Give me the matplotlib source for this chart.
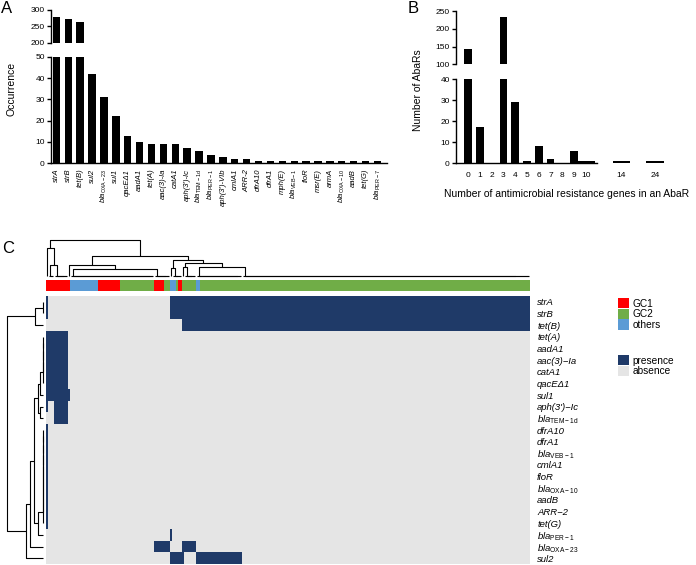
import numpy as np
import matplotlib
matplotlib.use('Agg')
import matplotlib.pyplot as plt
from matplotlib.colors import ListedColormap
from matplotlib.patches import Patch

plt.rcParams['font.family'] = ['Liberation Sans', 'DejaVu Sans']
plt.rcParams['mathtext.fontset'] = 'custom'
plt.rcParams['mathtext.rm'] = 'Liberation Sans'
plt.rcParams['mathtext.it'] = 'Liberation Sans:italic'
plt.rcParams['mathtext.bf'] = 'Liberation Sans:bold'

# ---------------- data ----------------
# Panel A
a_genes = ['strA', 'strB', 'tet(B)', 'sul2', 'blaOXA-23', 'sul1', 'qacEΔ1', 'aadA1', 'tet(A)',
           'aac(3)-Ia', 'catA1', "aph(3')-Ic", 'blaTEM-1d', 'blaPER-1', "aph(3')-VIb", 'cmlA1',
           'ARR-2', 'dfrA10', 'dfrA1', 'mph(E)', 'blaVEB-1', 'floR', 'msr(E)', 'armA',
           'blaOXA-10', 'aadB', 'tet(G)', 'blaPER-7']
a_counts = [278, 274, 263, 42, 31, 22, 13, 10, 9, 9, 9, 7, 6, 4, 3, 2, 2,
            1, 1, 1, 1, 1, 1, 1, 1, 1, 1, 1]

# Panel B
b_labels = ['0', '1', '2', '3', '4', '5', '6', '7', '8', '9', '10', '14', '24']
b_counts = [142, 17, 0, 234, 29, 1, 8, 2, 0, 6, 1, 1, 1]

# Panel C
heat_genes = ['strA', 'strB', 'tet(B)', 'tet(A)', 'aadA1', 'aac(3)−Ia', 'catA1', 'qacEΔ1', 'sul1',
              "aph(3')−Ic", 'blaTEM-1d', 'dfrA10', 'dfrA1', 'blaVEB-1', 'cmlA1', 'floR',
              'blaOXA-10', 'aadB', 'ARR−2', 'tet(G)', 'blaPER-1', 'blaOXA-23', 'sul2']
# column runs (consecutive AbaRs sharing clone and gene content)
run_sizes = [1, 3, 7, 1, 14, 11, 17, 5, 3, 1, 2, 1, 2, 1, 6, 2, 21, 144]
run_clone = ['GC1', 'GC1', 'GC1', 'GC1', 'others', 'GC1', 'GC2', 'GC1', 'GC2', 'others',
             'others', 'GC2', 'GC1', 'GC2', 'GC2', 'others', 'GC2', 'GC2']
run_genes = [
    ['strA', 'strB', 'tet(A)', 'aadA1', 'aac(3)−Ia', 'catA1', 'qacEΔ1', 'sul1', "aph(3')−Ic",
     'dfrA10', 'dfrA1', 'blaVEB-1', 'cmlA1', 'floR', 'blaOXA-10', 'aadB', 'ARR−2', 'tet(G)'],
    ['tet(A)', 'aadA1', 'aac(3)−Ia', 'catA1', 'qacEΔ1', 'sul1'],
    ['tet(A)', 'aadA1', 'aac(3)−Ia', 'catA1', 'qacEΔ1', 'sul1', "aph(3')−Ic", 'blaTEM-1d'],
    ['sul1'],
    [], [], [],
    ['blaOXA-23'], ['blaOXA-23'],
    ['strA', 'strB', 'blaPER-1', 'sul2'],
    ['strA', 'strB', 'sul2'], ['strA', 'strB', 'sul2'], ['strA', 'strB', 'sul2'],
    ['strA', 'strB', 'tet(B)', 'blaOXA-23', 'sul2'],
    ['strA', 'strB', 'tet(B)', 'blaOXA-23'],
    ['strA', 'strB', 'tet(B)', 'sul2'], ['strA', 'strB', 'tet(B)', 'sul2'],
    ['strA', 'strB', 'tet(B)'],
]
clones = ['GC1', 'GC2', 'others']

# ---------------- style ----------------
W, H = 696, 565
fig = plt.figure(figsize=(W / 100, H / 100), dpi=100)
clone_colors = ['#FF0000', '#70AD47', '#5B9BD5']
pres_color, abs_color = '#1F3A68', '#E5E5E5'
LW = 1.0


def px_axes(x0, y0, x1, y1):
    return fig.add_axes([x0 / W, 1 - y1 / H, (x1 - x0) / W, (y1 - y0) / H])


def gene_label(g):
    if g.startswith('bla'):
        return r'$\mathit{bla}_{\mathrm{' + g[3:] + '}}$'
    return g


def style_axes(ax, bottom=True):
    for s in ['top', 'right']:
        ax.spines[s].set_visible(False)
    ax.spines['left'].set_linewidth(LW)
    ax.spines['bottom'].set_linewidth(LW)
    if not bottom:
        ax.spines['bottom'].set_visible(False)
        ax.set_xticks([])
    ax.tick_params(axis='y', direction='out', length=3, width=LW, labelsize=6, pad=1.5)
    ax.set_facecolor('none')


# ---------------- Panel A ----------------
xa = np.arange(len(a_counts))
axA_lo = px_axes(51, 56.7, 387, 163.3)
axA_hi = px_axes(51, 10, 387, 42.7)
for ax in (axA_lo, axA_hi):
    ax.bar(xa, a_counts, width=0.62, color='black')
    ax.set_xlim(-0.45, 27.8)
axA_lo.set_ylim(0, 50)
axA_hi.set_ylim(200, 300)
style_axes(axA_lo)
style_axes(axA_hi, bottom=False)
axA_lo.set_yticks([0, 10, 20, 30, 40, 50])
axA_hi.set_yticks([200, 250, 300])
axA_lo.set_xticks(xa)
axA_lo.set_xticklabels([gene_label(g) for g in a_genes], rotation=90, fontsize=5.5,
                       fontstyle='italic')
axA_lo.tick_params(axis='x', length=0, pad=4)
fig.text(12 / W, 1 - 89 / H, 'Occurrence', rotation=90, ha='center', va='center', fontsize=7.5)
fig.text(1 / W, 1 - 1 / H, 'A', fontsize=12, ha='left', va='top')

# ---------------- Panel B ----------------
b_pos = list(range(11)) + [13.0, 15.85]
b_width = [0.64] * 10 + [1.45] * 3
axB_lo = px_axes(456, 79, 670, 163.3)
axB_hi = px_axes(456, 11, 670, 64.3)
for ax in (axB_lo, axB_hi):
    ax.bar(b_pos, b_counts, width=b_width, color='black')
    ax.set_xlim(-1.02, 17.12)
axB_lo.set_ylim(0, 40)
axB_hi.set_ylim(100, 250)
style_axes(axB_lo)
style_axes(axB_hi, bottom=False)
axB_lo.spines['bottom'].set_bounds(-1.02, 10.93)
axB_lo.set_yticks([0, 10, 20, 30, 40])
axB_hi.set_yticks([100, 150, 200, 250])
axB_lo.set_xticks(b_pos)
axB_lo.set_xticklabels(b_labels, fontsize=6)
axB_lo.tick_params(axis='x', length=0, pad=6)
fig.text(418 / W, 1 - 90 / H, 'Number of AbaRs', rotation=90, ha='center', va='center', fontsize=7.5)
fig.text(567 / W, 1 - 194 / H, 'Number of antimicrobial resistance genes in an AbaR',
         ha='center', va='center', fontsize=7.5)
fig.text(408 / W, 1 - 1 / H, 'B', fontsize=12, ha='left', va='top')

# ---------------- Panel C ----------------
n_rows = len(heat_genes)
n_cols = sum(run_sizes)
M = np.zeros((n_rows, n_cols))
clone_row = np.zeros((1, n_cols))
c = 0
for size, cl, genes in zip(run_sizes, run_clone, run_genes):
    for g in genes:
        M[heat_genes.index(g), c:c + size] = 1
    clone_row[0, c:c + size] = clones.index(cl)
    c += size

HX0, HX1, HY0, HY1 = 46, 529.5, 296, 564
axH = px_axes(HX0, HY0, HX1, HY1)
axH.imshow(M, cmap=ListedColormap([abs_color, pres_color]), aspect='auto',
           interpolation='nearest', vmin=0, vmax=1)
axH.set_xticks([])
axH.yaxis.tick_right()
axH.set_yticks(np.arange(n_rows))
axH.set_yticklabels([gene_label(g) for g in heat_genes], fontsize=6.8, fontstyle='italic')
axH.tick_params(axis='y', length=0, pad=5.5)
for s in axH.spines.values():
    s.set_visible(False)

axCB = px_axes(HX0, 280, HX1, 291)
axCB.imshow(clone_row, cmap=ListedColormap(clone_colors), aspect='auto',
            interpolation='nearest', vmin=0, vmax=2)
axCB.axis('off')


class Linkage:
    def __init__(self, n):
        self.n = n
        self.links = []

    def merge(self, a, b, h):
        self.links.append((a, b, h))
        return self.n + len(self.links) - 1

    def chain(self, lo, hi, reverse=True):
        if reverse:
            node = hi
            for i in range(hi - 1, lo - 1, -1):
                node = self.merge(i, node, 0.0)
        else:
            node = lo
            for i in range(lo + 1, hi + 1):
                node = self.merge(node, i, 0.0)
        return node

    def segments(self):
        pos = {i: i + 0.5 for i in range(self.n)}
        hgt = {i: 0.0 for i in range(self.n)}
        segs = []
        for k, (a, b, h) in enumerate(self.links):
            node = self.n + k
            segs.append(([pos[a], pos[a], pos[b], pos[b]], [hgt[a], h, h, hgt[b]]))
            pos[node] = (pos[a] + pos[b]) / 2
            hgt[node] = h
        return segs


# column dendrogram
CL = Linkage(n_cols)
nB = CL.merge(CL.chain(1, 3), CL.chain(4, 10), 11)
nA = CL.merge(0, nB, 28)
nD = CL.merge(CL.chain(12, 53), CL.chain(54, 61), 6.7)
nC = CL.merge(11, nD, 11)
nF = CL.merge(62, CL.chain(63, 67), 8)
nH = CL.merge(68, CL.chain(69, 74), 9)
nI = CL.merge(CL.chain(75, 97), CL.chain(98, 241), 9.3)
nG = CL.merge(nH, nI, 13)
nE = CL.merge(nF, nG, 16)
nR = CL.merge(nC, nE, 20)
CL.merge(nA, nR, 36)

axCD = px_axes(HX0, 236, HX1, 279)
for xs, ys in CL.segments():
    axCD.plot(xs, ys, color='black', lw=0.8, solid_capstyle='butt')
axCD.set_xlim(0, n_cols)
axCD.set_ylim(-3, 40)
axCD.axis('off')

# row dendrogram
RL = Linkage(n_rows)
r02 = RL.merge(RL.merge(0, 1, 0.0), 2, 7.7)
r38 = RL.merge(RL.chain(3, 7, reverse=False), 8, 2.4)
r310 = RL.merge(r38, RL.merge(9, 10, 3.0), 4.4)
r1120 = RL.merge(RL.chain(11, 19, reverse=False), 20, 4.4)
r320 = RL.merge(r310, r1120, 9.0)
r321 = RL.merge(r320, 21, 12.7)
r322 = RL.merge(r321, 22, 17.0)
RL.merge(r02, r322, 35.4)

axRD = px_axes(5, HY0, 46, HY1)
for ys, xs in RL.segments():
    axRD.plot(xs, ys, color='black', lw=0.8, solid_capstyle='butt')
axRD.set_ylim(n_rows, 0)
axRD.set_xlim(37.7, -3.3)
axRD.axis('off')

fig.text(2 / W, 1 - 241 / H, 'C', fontsize=12, ha='left', va='top')

# legends
leg1 = fig.legend([Patch(facecolor=col, edgecolor='none') for col in clone_colors], clones,
                  loc='upper left', bbox_to_anchor=(618 / W, 1 - 298 / H), frameon=False,
                  fontsize=7.3, handlelength=1.05, handleheight=1.2, labelspacing=0.0,
                  handletextpad=0.4, borderpad=0, borderaxespad=0)
leg2 = fig.legend([Patch(facecolor=pres_color, edgecolor='none'),
                   Patch(facecolor=abs_color, edgecolor='none')], ['presence', 'absence'],
                  loc='upper left', bbox_to_anchor=(618 / W, 1 - 355 / H), frameon=False,
                  fontsize=7.3, handlelength=1.05, handleheight=1.2, labelspacing=0.0,
                  handletextpad=0.4, borderpad=0, borderaxespad=0)

fig.savefig('out.png', dpi=100)
